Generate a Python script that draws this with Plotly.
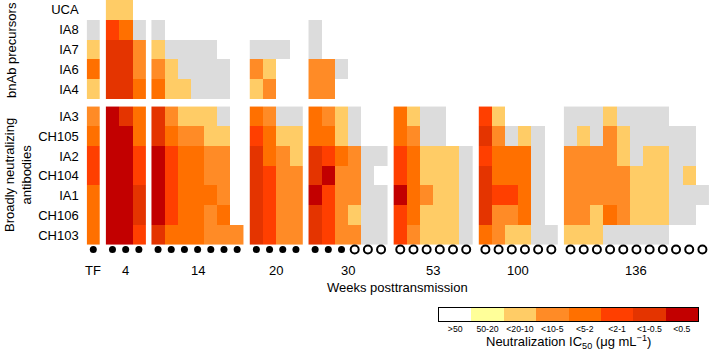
import plotly.graph_objects as go

N = None   # no sample
G = 0      # grey: not tested

# ---------------- data ----------------
group_labels = ["TF", "4", "14", "20", "30", "53", "100", "136"]
group_sizes = [1, 3, 7, 4, 6, 6, 6, 11]
# sample markers per visit (True = filled dot, False = open circle)
visit_filled = ([True] * 1 + [True] * 3 + [True] * 7 + [True] * 4 +
                [True, True, True, False, False, False] +
                [False] * 6 + [False] * 6 + [False] * 11)

precursor_rows = ["UCA", "IA8", "IA7", "IA6", "IA4"]
bnab_rows = ["IA3", "CH105", "IA2", "CH104", "IA1", "CH106", "CH103"]

# codes: 0 grey, 1 >50, 2 50-20, 3 <20-10, 4 <10-5, 5 <5-2, 6 <2-1, 7 <1-0.5, 8 <0.5
UCA   = [N, 3, 3, N, N, N, N, N, N, N, N, N, N, N, N, N, N, N, N, N, N, N, N, N, N, N, N, N, N, N, N, N, N, N, N, N, N, N, N, N, N, N, N, N]
IA8   = [G, 6, 5, G, G, N, N, N, N, N, N, N, N, N, N, G, N, N, N, N, N, N, N, N, N, N, N, N, N, N, N, N, N, N, N, N, N, N, N, N, N, N, N, N]
IA7   = [3, 7, 7, 4, 3, G, G, G, G, N, N, G, G, G, N, G, N, N, N, N, N, N, N, N, N, N, N, N, N, N, N, N, N, N, N, N, N, N, N, N, N, N, N, N]
IA6   = [5, 7, 7, 4, 4, 3, G, G, G, G, N, 4, 3, N, N, 4, 4, G, N, N, N, N, N, N, N, N, N, N, N, N, N, N, N, N, N, N, N, N, N, N, N, N, N, N]
IA4   = [3, 7, 7, 5, 5, 3, 3, G, G, G, N, 3, 4, N, N, 4, 4, N, N, N, N, N, N, N, N, N, N, N, N, N, N, N, N, N, N, N, N, N, N, N, N, N, N, N]
IA3   = [4, 8, 7, 5, 7, 4, 3, 3, 3, G, N, 5, 4, G, G, 5, 4, 3, G, N, N, 5, 3, G, G, N, N, 6, 3, N, N, N, N, G, G, G, 3, G, G, G, G, N, N, N]
CH105 = [5, 8, 8, 5, 7, 5, 4, 4, 3, 3, N, 6, 5, 3, 3, 5, 5, 3, G, N, N, 5, 4, G, G, N, N, 7, 4, G, 3, G, N, G, 3, G, 4, 3, G, G, G, G, G, N]
IA2   = [6, 8, 8, 6, 8, 6, 5, 5, 4, 4, N, 7, 5, 4, 3, 7, 6, 5, 4, G, G, 6, 5, 3, 3, 3, G, 6, 5, 5, 5, G, N, 4, 4, 4, 4, 3, G, 3, 3, G, G, N]
CH104 = [6, 8, 8, 6, 8, 6, 5, 5, 4, 4, N, 7, 6, 4, 4, 7, 8, 4, 4, G, N, 6, 5, 3, 3, 3, G, 7, 5, 5, 5, G, N, 4, 4, 4, 4, 4, 3, 3, 3, G, 3, N]
IA1   = [5, 8, 8, 7, 8, 6, 5, 5, 5, 4, N, 7, 6, 4, 4, 8, 6, 4, 4, G, G, 8, 5, 4, 3, 3, G, 7, 6, 6, 5, G, N, 4, 4, 4, 4, 4, 3, 3, 3, G, G, G]
CH106 = [5, 8, 8, 7, 8, 6, 5, 5, 4, 5, N, 7, 6, 4, 4, 7, 6, 4, 3, G, G, 6, 5, 3, 3, 3, G, 7, 4, 4, 5, G, N, 4, 4, 3, 5, 4, 3, 3, 3, G, G, N]
CH103 = [5, 8, 8, 6, 7, 5, 5, 5, 4, 4, 4, 7, 6, 4, 4, 7, 6, 4, 4, G, G, 6, 4, 3, 3, 3, G, 5, 4, 3, 3, G, G, 3, 3, 3, G, G, G, G, G, N, N, N]

precursor_values = [UCA, IA8, IA7, IA6, IA4]
bnab_values = [IA3, CH105, IA2, CH104, IA1, CH106, CH103]

legend_labels = [">50", "50-20", "<20-10", "<10-5", "<5-2", "<2-1", "<1-0.5", "<0.5"]
legend_codes = [1, 2, 3, 4, 5, 6, 7, 8]

# ---------------- style ----------------
colors = ["#DCDCDC", "#FFFFFF", "#FFFF99", "#FFCC66", "#FF8B26",
          "#FF7000", "#FF3F00", "#E43400", "#C20000"]
ncol = len(colors)
colorscale = []
for i, c in enumerate(colors):
    colorscale.append([i / ncol, c])
    colorscale.append([(i + 1) / ncol, c])

FONT = "Arial, Liberation Sans, sans-serif"
W, H = 709, 351
XGAP = 0.455     # gap between visit groups (in column units)
YGAP = 0.39      # gap between antibody groups (in row units)
ROW_PX = 19.77
PLOT_LEFT = 86.7
PLOT_BOTTOM_PX = 262

# column positions
col_x = []
group_x = []
c = 0
for g, size in enumerate(group_sizes):
    xs = [c + k + g * XGAP for k in range(size)]
    group_x.append(xs)
    col_x.extend(xs)
    c += size

fig = go.Figure()

blocks = [(precursor_values, 0.0), (bnab_values, len(precursor_rows) + YGAP)]
start = 0
for g, size in enumerate(group_sizes):
    for vals, y0 in blocks:
        z = [row[start:start + size] for row in vals]
        fig.add_trace(go.Heatmap(
            z=z, x0=group_x[g][0], dx=1, y0=y0, dy=1,
            colorscale=colorscale, zmin=-0.5, zmax=ncol - 0.5,
            showscale=False, hoverinfo="skip", xgap=0, ygap=0))
    start += size

# sample markers
circle_y = 12.12
fx = [x for x, f in zip(col_x, visit_filled) if f]
ox = [x for x, f in zip(col_x, visit_filled) if not f]
fig.add_trace(go.Scatter(x=fx, y=[circle_y] * len(fx), mode="markers",
                         marker=dict(symbol="circle", size=7, color="black"),
                         hoverinfo="skip", showlegend=False, cliponaxis=False))
fig.add_trace(go.Scatter(x=ox, y=[circle_y] * len(ox), mode="markers",
                         marker=dict(symbol="circle-open", size=8, color="black",
                                     line=dict(width=2, color="black")),
                         hoverinfo="skip", showlegend=False, cliponaxis=False))

# legend bar
fig.add_trace(go.Heatmap(z=[legend_codes], x=list(range(len(legend_codes))), y=[0],
                         xaxis="x2", yaxis="y2", colorscale=colorscale,
                         zmin=-0.5, zmax=ncol - 0.5, showscale=False, hoverinfo="skip"))

row_names = precursor_rows + bnab_rows
row_y = list(range(len(precursor_rows))) + [len(precursor_rows) + YGAP + i for i in range(len(bnab_rows))]

x_max = len(col_x) - 1 + (len(group_sizes) - 1) * XGAP + 0.5
y_bottom = PLOT_BOTTOM_PX / ROW_PX - 0.5

fig.update_layout(
    width=W, height=H, margin=dict(l=0, r=0, t=0, b=0),
    template="none", paper_bgcolor="white", plot_bgcolor="rgba(0,0,0,0)",
    font=dict(family=FONT, size=13, color="black"),
    showlegend=False,
    xaxis=dict(domain=[PLOT_LEFT / W, 1.0], range=[-0.5, x_max], showgrid=False,
               zeroline=False, showticklabels=False, ticks="", automargin=False),
    yaxis=dict(domain=[1 - PLOT_BOTTOM_PX / H, 1.0], range=[y_bottom, -0.5],
               showgrid=False, zeroline=False, ticks="", tickvals=row_y,
               ticktext=row_names, ticklabelstandoff=7, automargin=False,
               tickfont=dict(size=13, family=FONT, color="black")),
    xaxis2=dict(domain=[439 / W, 698 / W], range=[-0.5, 7.5], anchor="y2",
                showgrid=False, zeroline=False, ticks="", showline=True, mirror=True,
                linecolor="black", linewidth=1, tickvals=list(range(len(legend_labels))),
                ticktext=legend_labels, tickfont=dict(size=8.7, family=FONT, color="black"),
                automargin=False, ticklabelstandoff=0),
    yaxis2=dict(domain=[1 - 321 / H, 1 - 308 / H], range=[-0.5, 0.5], anchor="x2",
                showgrid=False, zeroline=False, ticks="", showticklabels=False,
                showline=True, mirror=True, linecolor="black", linewidth=1,
                automargin=False),
)

ann = []
# visit group labels
for g, lab in enumerate(group_labels):
    xc = (group_x[g][0] + group_x[g][-1]) / 2
    ann.append(dict(x=xc, y=1 - 270 / H, xref="x", yref="paper", text=lab,
                    showarrow=False, font=dict(size=13), xanchor="center", yanchor="middle"))
ann.append(dict(x=397.5 / W, y=1 - 287 / H, xref="paper", yref="paper",
                text="Weeks posttransmission", showarrow=False, font=dict(size=13),
                xanchor="center", yanchor="middle"))
ann.append(dict(x=12 / W, y=1 - 50 / H, xref="paper", yref="paper",
                text="bnAb precursors", textangle=-90, showarrow=False,
                font=dict(size=13), xanchor="center", yanchor="middle"))
ann.append(dict(x=18 / W, y=1 - 175 / H, xref="paper", yref="paper",
                text="Broadly neutralizing<br>antibodies", textangle=-90, showarrow=False,
                font=dict(size=13), xanchor="center", yanchor="middle"))
ann.append(dict(x=568 / W, y=1 - 342 / H, xref="paper", yref="paper",
                text="Neutralization IC<sub>50</sub> (μg mL<sup>−1</sup>)", showarrow=False,
                font=dict(size=13), xanchor="center", yanchor="middle"))
fig.update_layout(annotations=ann)

fig.write_html("out.html", config={"displayModeBar": False},
               post_script="document.body.style.margin='0px';document.body.style.overflow='hidden';")
